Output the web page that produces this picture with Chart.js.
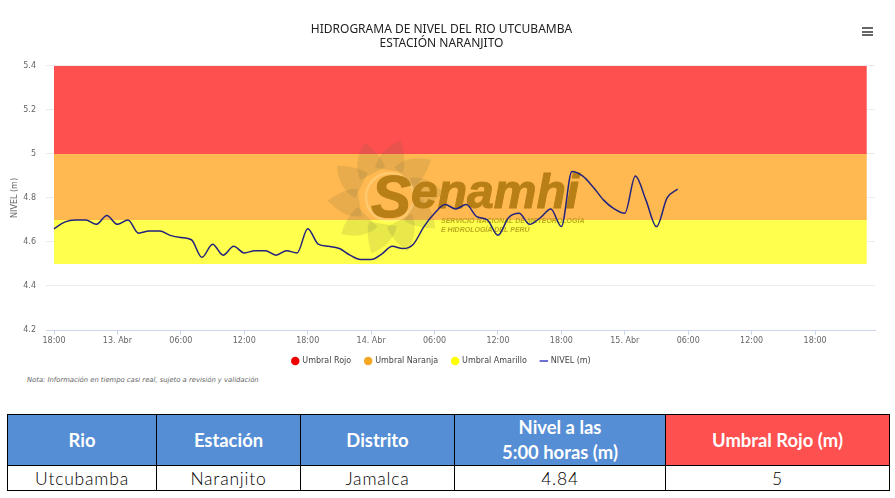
<!DOCTYPE html>
<html>
<head>
<meta charset="utf-8">
<script src="https://cdn.jsdelivr.net/npm/chart.js@4"></script>
<style>
  body { margin: 0; background: #fff; width: 895px; height: 498px; overflow: hidden; position: relative; }
  #chartBox { position: absolute; left: 0; top: 0; width: 891px; height: 375px; }
  #menu { position: absolute; left: 862px; top: 27px; width: 11px; height: 9px; }
  #menu div { height: 2px; background: #666; margin-bottom: 1.5px; }
  #note { position: absolute; left: 27px; top: 376px; font: italic 6.8px "DejaVu Sans", sans-serif; color: #666; }
  table { position: absolute; left: 7px; top: 414px; width: 882px; height: 76px; border-collapse: collapse; table-layout: fixed; font-family: Lato, sans-serif; }
  td, th { border: 1px solid #000; text-align: center; padding: 0; }
  th { background: #558ed5; color: #fff; font-size: 18.4px; font-weight: 700; height: 50px; line-height: 25px; }
  th.rojo { background: #ff5050; }
  td { font-size: 17.5px; font-weight: 300; color: #000; letter-spacing: .8px; height: 24px; }
</style>
</head>
<body>
<div id="chartBox"><canvas id="nivelChart"></canvas></div>
<div id="menu"><div></div><div></div><div></div></div>
<div id="note">Nota: Información en tiempo casi real, sujeto a revisión y validación</div>
<table id="tabla"></table>
<script>
// horas desde las 18:00 del 12 de abril
const horas = [0,1,2,3,4,5,6,7,8,9,10,11,12,13,14,15,16,17,18,19,20,21,22,23,24,25,26,27,28,29,
  30,31,32,33,34,35,36,37,38,39,40,41,42,43,44,45,46,47,48,49,50,51,52,53,54,55,56,57,58,59];
const nivel = [4.66,4.69,4.70,4.70,4.68,4.72,4.68,4.70,4.64,4.65,4.65,4.63,4.62,4.61,4.53,4.59,4.54,4.58,4.55,4.56,
  4.56,4.54,4.56,4.55,4.66,4.59,4.58,4.57,4.54,4.52,4.52,4.545,4.58,4.57,4.59,4.67,4.73,4.77,4.75,4.77,
  4.715,4.70,4.63,4.71,4.73,4.68,4.71,4.75,4.67,4.92,4.90,4.85,4.79,4.75,4.73,4.90,4.79,4.67,4.80,4.84];

const xTickHoras = [0,6,12,18,24,30,36,42,48,54,60,66,72];
const xTickLabels = ['18:00','13. Abr','06:00','12:00','18:00','14. Abr','06:00','12:00','18:00','15. Abr','06:00','12:00','18:00'];
const yTicks = [4.2,4.4,4.6,4.8,5,5.2,5.4];

const bandaInicio = 0;
const bandaFin = 76.9;
const umbralRojo = [5.4, 5];
const umbralNaranja = [5, 4.7];
const umbralAmarillo = [4.7, 4.5];

const tablaHeaders = ['Rio', 'Estación', 'Distrito', 'Nivel a las<br>5:00 horas (m)', 'Umbral Rojo (m)'];
const tablaFila = ['Utcubamba', 'Naranjito', 'Jamalca', '4.84', '5'];
const tablaAnchos = [149, 144, 154, 211, 224];

document.getElementById('tabla').innerHTML =
  '<colgroup>' + tablaAnchos.map(w => '<col style="width:' + w + 'px">').join('') + '</colgroup>' +
  '<tr>' + tablaHeaders.map((h, i) => '<th' + (i == 4 ? ' class="rojo"' : '') + '>' + h + '</th>').join('') + '</tr>' +
  '<tr>' + tablaFila.map(v => '<td>' + v + '</td>').join('') + '</tr>';

function banda(label, valores, color, relleno) {
  return {
    label: label,
    data: [{ x: bandaInicio, y: valores[0] }, { x: bandaFin, y: valores[0] }],
    borderWidth: 0,
    pointRadius: 0,
    backgroundColor: color,
    borderColor: color,
    pointStyle: 'circle',
    fill: { target: { value: valores[1] }, above: relleno, below: relleno }
  };
}

// logo de fondo, va entre las bandas y la linea
const marcaAgua = {
  id: 'marcaAgua',
  beforeDatasetDraw(chart, args) {
    if (args.index !== 3) return;
    const c = chart.ctx;
    c.save();
    c.translate(386, 197);
    c.fillStyle = 'rgba(100,100,60,0.15)';
    for (let i = 0; i < 10; i++) {
      c.save();
      c.rotate(i * Math.PI * 2 / 10 + 0.15);
      c.beginPath();
      c.moveTo(-15, -27);
      c.quadraticCurveTo(-14, -46, 6, -58);
      c.quadraticCurveTo(15, -40, 13, -27);
      c.closePath();
      c.fill();
      c.restore();
    }
    c.lineWidth = 2.5;
    c.strokeStyle = 'rgba(255,240,190,0.3)';
    c.beginPath();
    c.arc(4, 0, 24, 0, Math.PI * 2);
    c.stroke();
    c.restore();

    c.save();
    c.fillStyle = '#b87f17';
    c.strokeStyle = '#b87f17';
    c.lineWidth = 1;
    c.textBaseline = 'alphabetic';
    c.font = 'italic bold 60px "Liberation Sans"';
    c.fillText('S', 371, 217);
    c.strokeText('S', 371, 217);
    c.font = 'italic bold 48px "Liberation Sans"';
    c.fillText('enamhi', 411, 208);
    c.strokeText('enamhi', 411, 208);
    c.font = 'italic bold 7px "Liberation Sans"';
    c.fillStyle = 'rgba(170,150,20,0.8)';
    c.fillText('SERVICIO NACIONAL DE METEOROLOGÍA', 441, 223);
    c.fillText('E HIDROLOGÍA DEL PERÚ', 441, 232);
    c.restore();
  }
};

const nivelChart = new Chart(document.getElementById('nivelChart'), {
  type: 'line',
  plugins: [marcaAgua],
  data: {
    datasets: [
      banda('Umbral Rojo', umbralRojo, '#ee0000', '#ff5050'),
      banda('Umbral Naranja', umbralNaranja, '#f5a623', '#ffb950'),
      banda('Umbral Amarillo', umbralAmarillo, '#ffff00', '#ffff4d'),
      {
        label: 'NIVEL (m)',
        data: horas.map((h, i) => ({ x: h, y: nivel[i] })),
        borderColor: '#22227f',
        backgroundColor: '#3f3fc8',
        borderWidth: 1.5,
        pointRadius: 0,
        cubicInterpolationMode: 'monotone',
        fill: false,
        order: -1,
        pointStyle: 'line'
      }
    ]
  },
  options: {
    responsive: true,
    maintainAspectRatio: false,
    animation: false,
    layout: { padding: { top: 4, bottom: 0, left: 8, right: 16 } },
    plugins: {
      title: {
        display: true,
        text: ['HIDROGRAMA DE NIVEL DEL RIO UTCUBAMBA', 'ESTACIÓN NARANJITO'],
        color: '#222',
        font: { family: '"Noto Sans"', size: 12, weight: 'normal', lineHeight: 1.12 },
        padding: { top: 19, bottom: 16 }
      },
      legend: {
        position: 'bottom',
        labels: {
          usePointStyle: true,
          boxWidth: 6,
          boxHeight: 6,
          padding: 14,
          color: '#444',
          font: { family: '"DejaVu Sans"', size: 8 },
          sort: (a, b) => a.datasetIndex - b.datasetIndex,
          generateLabels: chart => Chart.defaults.plugins.legend.labels.generateLabels(chart).map(item => {
            item.strokeStyle = item.fillStyle;
            return item;
          })
        }
      },
      tooltip: { enabled: false }
    },
    scales: {
      x: {
        type: 'linear',
        min: -0.757,
        max: 77.67,
        afterBuildTicks: scale => { scale.ticks = xTickHoras.map(v => ({ value: v })); },
        afterFit: scale => { scale.height = 13; },
        ticks: {
          autoSkip: false,
          maxRotation: 0,
          padding: 1,
          color: '#666',
          font: { family: '"DejaVu Sans"', size: 8 },
          callback: value => xTickLabels[xTickHoras.indexOf(value)]
        },
        grid: { drawOnChartArea: false, drawTicks: true, tickLength: 5, tickColor: '#ccd6eb' },
        border: { color: '#ccd6eb' }
      },
      y: {
        min: 4.2,
        max: 5.4,
        afterBuildTicks: scale => { scale.ticks = yTicks.map(v => ({ value: v })); },
        afterFit: scale => { scale.width = 38; },
        title: {
          display: true,
          text: 'NIVEL (m)',
          color: '#666',
          padding: { top: 2, bottom: 0 },
          font: { family: '"DejaVu Sans"', size: 8 }
        },
        ticks: {
          padding: 10,
          color: '#666',
          font: { family: '"DejaVu Sans"', size: 8 },
          callback: value => String(value)
        },
        grid: { color: 'rgba(200,200,200,0.35)', drawTicks: false },
        border: { display: false }
      }
    }
  }
});
</script>
</body>
</html>
